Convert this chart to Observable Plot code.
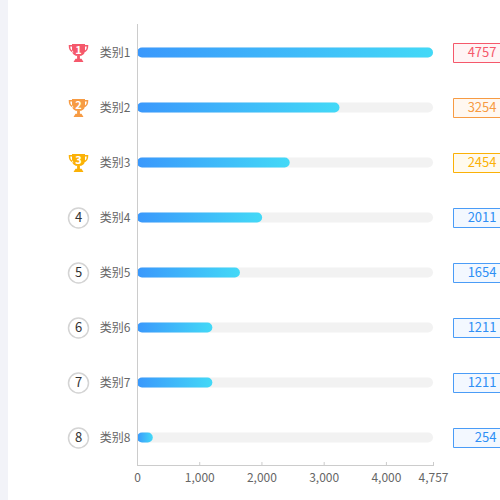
<!DOCTYPE html>
<html>
<head>
<meta charset="utf-8">
<script src="https://cdn.jsdelivr.net/npm/d3@7"></script>
<script src="https://cdn.jsdelivr.net/npm/@observablehq/plot@0.6"></script>
<style>
  body { margin: 0; background: #fff; }
  #chart { width: 500px; height: 500px; background: linear-gradient(to right, #f2f3f8 8px, #fff 8px); }
</style>
</head>
<body>
<div id="chart"></div>
<script>
const categories = ["类别1", "类别2", "类别3", "类别4", "类别5", "类别6", "类别7", "类别8"];
const values = [4757, 3254, 2454, 2011, 1654, 1211, 1211, 254];
const ranks = [1, 2, 3, 4, 5, 6, 7, 8];
const xTicks = [0, 1000, 2000, 3000, 4000, 4757];
const maxValue = 4757;

const rankColors = ["#f5586b", "#f79b43", "#fbb106"];
const rankFills = ["#fff4f5", "#fff8f1", "#fffaee"];
const blue = "#2e8ff5";
const blueFill = "#f3f8ff";

const rows = categories.map((c, i) => ({
  cat: c, value: values[i], rank: ranks[i], max: maxValue,
  color: i < 3 ? rankColors[i] : blue,
  boxFill: i < 3 ? rankFills[i] : blueFill,
  boxStroke: i < 3 ? rankColors[i] : "#4a9cf7"
}));
const top3 = rows.filter(d => d.rank <= 3);
const rest = rows.filter(d => d.rank > 3);

// trophy shape, drawn around the dot's centre
const trophy = {
  draw(ctx) {
    ctx.moveTo(-6.5, -9); ctx.lineTo(6.5, -9); ctx.lineTo(6.5, -3);
    ctx.quadraticCurveTo(6.5, 3, 0, 3); ctx.quadraticCurveTo(-6.5, 3, -6.5, -3); ctx.closePath();
    ctx.moveTo(-6.5, -8); ctx.lineTo(-9.8, -8); ctx.quadraticCurveTo(-10, -1, -5, -0.5);
    ctx.lineTo(-5.6, -2); ctx.quadraticCurveTo(-8.2, -2.8, -8.2, -6.4); ctx.lineTo(-6.5, -6.4); ctx.closePath();
    ctx.moveTo(6.5, -8); ctx.lineTo(9.8, -8); ctx.quadraticCurveTo(10, -1, 5, -0.5);
    ctx.lineTo(5.6, -2); ctx.quadraticCurveTo(8.2, -2.8, 8.2, -6.4); ctx.lineTo(6.5, -6.4); ctx.closePath();
    ctx.rect(-1.4, 2.5, 2.8, 3.5);
    ctx.moveTo(-3, 5.8); ctx.lineTo(3, 5.8); ctx.lineTo(5, 9); ctx.lineTo(-5, 9); ctx.closePath();
  }
};
const box = { draw(ctx) { ctx.rect(-26, -9.5, 52, 19); } };

const chart = Plot.plot({
  width: 500,
  height: 500,
  marginLeft: 137,
  marginRight: 67,
  marginTop: 24,
  marginBottom: 35,
  style: { background: "transparent", fontFamily: "'Noto Sans CJK SC', sans-serif", overflow: "visible" },
  x: { domain: [0, maxValue] },
  y: { domain: categories, padding: 0 },
  marks: [
    Plot.barX(rows, { x: "max", y: "cat", fill: "#f2f2f2", rx: 5, insetTop: 22.6, insetBottom: 22.6 }),
    Plot.barX(rows, { x: "value", y: "cat", fill: "url(#barGrad)", rx: 5, insetTop: 22.6, insetBottom: 22.6 }),
    Plot.ruleX([0], { stroke: "#ccc" }),
    Plot.frame({ anchor: "bottom", stroke: "#ccc" }),
    Plot.axisX({ ticks: xTicks, tickFormat: d3.format(","), tickSize: -3, stroke: "#ccc", tickPadding: 11, fontSize: 12, fill: "#666", label: null }),
    Plot.axisY({ tickSize: 0, tickPadding: 7, fontSize: 12, fill: "#666", label: null }),
    // rank icons
    Plot.dot(top3, { x: 0, y: "cat", dx: -59, symbol: trophy, fill: "color", stroke: null }),
    Plot.text(top3, { x: 0, y: "cat", dx: -59, dy: -3, text: d => String(d.rank), fill: "white", fontSize: 11, fontWeight: "bold" }),
    Plot.dot(rest, { x: 0, y: "cat", dx: -59, r: 10, fill: "white", stroke: "#d4d4d4" }),
    Plot.text(rest, { x: 0, y: "cat", dx: -59, text: d => String(d.rank), fill: "#333", fontSize: 13 }),
    // value boxes
    Plot.dot(rows, { x: "max", y: "cat", dx: 46, symbol: box, fill: "boxFill", stroke: "boxStroke", strokeWidth: 1 }),
    Plot.text(rows, { x: "max", y: "cat", dx: 63, text: d => String(d.value), textAnchor: "end", fill: "color", fontSize: 13 })
  ]
});

const defs = d3.select(chart).insert("defs", ":first-child");
const grad = defs.append("linearGradient").attr("id", "barGrad").attr("x1", 0).attr("x2", 1).attr("y1", 0).attr("y2", 0);
grad.append("stop").attr("offset", "0%").attr("stop-color", "#3a98fc");
grad.append("stop").attr("offset", "100%").attr("stop-color", "#43d9f7");

d3.select("#chart").append(() => chart);
</script>
</body>
</html>
